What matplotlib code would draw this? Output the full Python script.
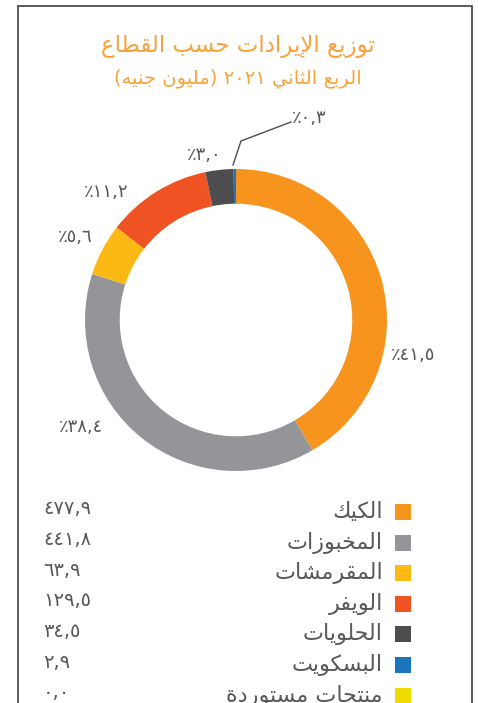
import re
import matplotlib.pyplot as plt
from matplotlib.patches import Rectangle

# Data
categories = ["الكيك", "المخبوزات", "المقرمشات", "الويفر", "الحلويات", "البسكويت", "منتجات مستوردة"]
revenue = [477.9, 441.8, 63.9, 129.5, 34.5, 2.9, 0.0]
shares = [41.5, 38.4, 5.6, 11.2, 3.0, 0.3]
colors = ["#F7941D", "#939598", "#FDB913", "#EF5323", "#4D4D4F", "#1C75BC", "#EEDC00"]
title = "توزيع الإيرادات حسب القطاع"
subtitle = "الربع الثاني ٢٠٢١ (مليون جنيه)"

# --- minimal Arabic shaping (no arabic_reshaper in the sandbox) ---
FORMS = {
    'ا': (0xFE8D, 0xFE8E), 'إ': (0xFE87, 0xFE88), 'أ': (0xFE83, 0xFE84),
    'ب': (0xFE8F, 0xFE90, 0xFE91, 0xFE92), 'ة': (0xFE93, 0xFE94),
    'ت': (0xFE95, 0xFE96, 0xFE97, 0xFE98), 'ث': (0xFE99, 0xFE9A, 0xFE9B, 0xFE9C),
    'ج': (0xFE9D, 0xFE9E, 0xFE9F, 0xFEA0), 'ح': (0xFEA1, 0xFEA2, 0xFEA3, 0xFEA4),
    'خ': (0xFEA5, 0xFEA6, 0xFEA7, 0xFEA8), 'د': (0xFEA9, 0xFEAA), 'ذ': (0xFEAB, 0xFEAC),
    'ر': (0xFEAD, 0xFEAE), 'ز': (0xFEAF, 0xFEB0),
    'س': (0xFEB1, 0xFEB2, 0xFEB3, 0xFEB4), 'ش': (0xFEB5, 0xFEB6, 0xFEB7, 0xFEB8),
    'ط': (0xFEC1, 0xFEC2, 0xFEC3, 0xFEC4), 'ع': (0xFEC9, 0xFECA, 0xFECB, 0xFECC),
    'ف': (0xFED1, 0xFED2, 0xFED3, 0xFED4), 'ق': (0xFED5, 0xFED6, 0xFED7, 0xFED8),
    'ك': (0xFED9, 0xFEDA, 0xFEDB, 0xFEDC), 'ل': (0xFEDD, 0xFEDE, 0xFEDF, 0xFEE0),
    'م': (0xFEE1, 0xFEE2, 0xFEE3, 0xFEE4), 'ن': (0xFEE5, 0xFEE6, 0xFEE7, 0xFEE8),
    'ه': (0xFEE9, 0xFEEA, 0xFEEB, 0xFEEC), 'و': (0xFEED, 0xFEEE),
    'ي': (0xFEF1, 0xFEF2, 0xFEF3, 0xFEF4),
}
LAMALEF = {'ا': (0xFEFB, 0xFEFC), 'إ': (0xFEF9, 0xFEFA), 'أ': (0xFEF7, 0xFEF8)}


def shape(word):
    out = []
    i = 0
    while i < len(word):
        c = word[i]
        if c not in FORMS:
            out.append(c)
            i += 1
            continue
        prev = word[i - 1] if i > 0 else None
        conn_prev = prev in FORMS and len(FORMS[prev]) == 4
        nxt = word[i + 1] if i + 1 < len(word) else None
        if c == 'ل' and nxt in LAMALEF:
            out.append(chr(LAMALEF[nxt][1 if conn_prev else 0]))
            i += 2
            continue
        f = FORMS[c]
        conn_next = len(f) == 4 and nxt in FORMS
        if conn_prev and conn_next:
            code = f[3]
        elif conn_prev:
            code = f[1]
        elif conn_next:
            code = f[2]
        else:
            code = f[0]
        out.append(chr(code))
        i += 1
    return ''.join(out)


def ar(text):
    shaped = shape(text)
    runs = re.findall(r'[٠-٩0-9.,]+|[^٠-٩0-9.,]+', shaped)
    mirror = {'(': ')', ')': '('}
    vis = []
    for r in reversed(runs):
        if re.match(r'[٠-٩0-9]', r):
            vis.append(r)
        else:
            vis.append(''.join(mirror.get(ch, ch) for ch in reversed(r)))
    return ''.join(vis)


def ar_num(v):
    s = f"{v:.1f}".replace('.', ',')
    return s.translate(str.maketrans('0123456789', '٠١٢٣٤٥٦٧٨٩'))


plt.rcParams['font.family'] = ['DejaVu Sans']
W, H = 478, 703
fig = plt.figure(figsize=(W / 100, H / 100), dpi=100)

text_col = "#58595B"
title_col = "#F9A23B"

# frame
fig.patches.append(Rectangle((18 / W, -0.05), 454 / W, (H - 6) / H + 0.05,
                             transform=fig.transFigure, fill=False,
                             edgecolor="#4D4D4F", linewidth=1.3))

fig.text(238 / W, 1 - 47 / H, ar(title), color=title_col, fontsize=16.5,
         ha='center', va='center')
fig.text(238 / W, 1 - 78 / H, ar(subtitle), color=title_col, fontsize=14,
         ha='center', va='center')

# donut
cx, cy, R = 236, 320, 151
ax = fig.add_axes([(cx - R) / W, (H - cy - R) / H, 2 * R / W, 2 * R / H])
ax.pie(revenue, colors=colors, startangle=90, counterclock=False, radius=1,
       wedgeprops=dict(width=0.23, linewidth=0))
ax.set_xlim(-1, 1)
ax.set_ylim(-1, 1)

# label positions (pixel offsets from donut centre)
label_pos = [(177, -35), (-155, -107), (-161, 83), (-130, 128), (-32, 165), (73, 202)]
for p, (dx, dy) in zip(shares, label_pos):
    ax.text(dx / R, dy / R, "٪" + ar_num(p), fontsize=13, color=text_col,
            ha='center', va='center', clip_on=False)

# leader line for the tiny slice
ax.plot([-3 / R, 5 / R, 55 / R], [155 / R, 179 / R, 198 / R], color="#4D4D4F",
        linewidth=1, clip_on=False)

# legend
row0, step = 512, 30.6
for i, (cat, val, col) in enumerate(zip(categories, revenue, colors)):
    y = 1 - (row0 + i * step) / H
    fig.patches.append(Rectangle((395 / W, y - 8 / H), 16 / W, 16 / H,
                                 transform=fig.transFigure, facecolor=col,
                                 edgecolor='none'))
    fig.text(383 / W, y, ar(cat), fontsize=16, color=text_col,
             ha='right', va='center')
    fig.text(43 / W, y + 3 / H, ar_num(val), fontsize=14, color=text_col,
             ha='left', va='center')

plt.savefig("out.png", dpi=100)
